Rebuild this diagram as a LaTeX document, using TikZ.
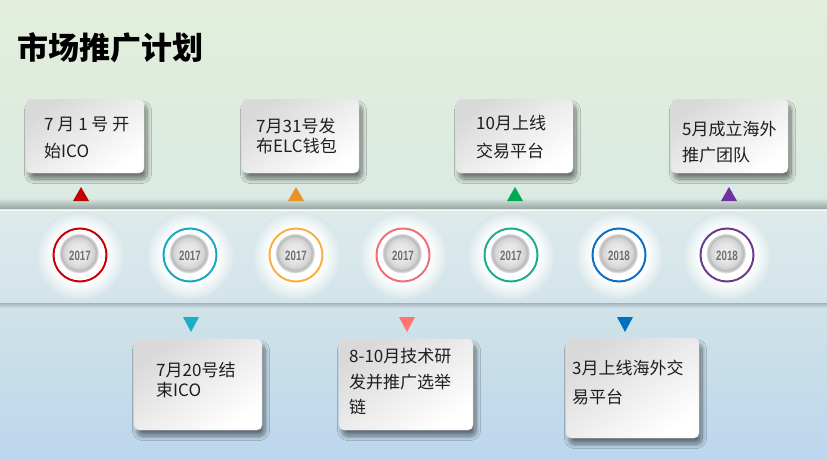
\documentclass[tikz,border=0pt]{standalone}
\usepackage{fontspec}
\usetikzlibrary{shadows.blur,fadings}
\newfontfamily\cjk{Noto Sans CJK SC}
\newfontfamily\yearfont[FakeStretch=0.72]{Liberation Sans}
\definecolor{bgtop}{HTML}{E3EFDB}
\definecolor{bgmid}{HTML}{D9E9E4}
\definecolor{bgbot}{HTML}{BCD6EE}
\definecolor{bandtop}{HTML}{DEEAEA}
\definecolor{bandbot}{HTML}{D3E4EB}
\definecolor{bandmid}{HTML}{D9E7EA}
\definecolor{txt}{HTML}{1E1E1E}
\definecolor{cRed}{HTML}{C8000A}
\definecolor{cCyan}{HTML}{1AA8BE}
\definecolor{cOrange}{HTML}{F9B040}
\definecolor{cPink}{HTML}{EE7075}
\definecolor{cGreen}{HTML}{1BAE8C}
\definecolor{cBlue}{HTML}{0B6FC4}
\definecolor{cPurple}{HTML}{6A3A8D}
\definecolor{tRed}{HTML}{C00000}
\definecolor{tOrange}{HTML}{EA9126}
\definecolor{tGreen}{HTML}{00AA55}
\definecolor{tPurple}{HTML}{7030A0}
\definecolor{tCyan}{HTML}{1AAFC4}
\definecolor{tPink}{HTML}{FF7373}
\definecolor{tBlue}{HTML}{0070C0}
\definecolor{yeargray}{HTML}{6E6E6E}
\pgfdeclareradialshading{glow}{\pgfpoint{0bp}{0bp}}{color(0bp)=(white); color(15bp)=(white); color(18bp)=(white!75!bandmid); color(25bp)=(bandmid); color(50bp)=(bandmid)}
\pgfdeclareradialshading{disc}{\pgfpoint{-2bp}{3bp}}{color(0bp)=(white!94!black); color(10bp)=(white!89!black); color(15bp)=(white!83!black); color(17.5bp)=(white!72!black); color(19bp)=(white!84!black); color(20bp)=(white); color(25bp)=(white); color(50bp)=(white)}
\tikzset{
  boxcard/.style={rectangle, rounded corners=5pt, draw=black!10, line width=0.4pt,
    top color=black!15, bottom color=white, shading angle=35,
    blur shadow={shadow xshift=3pt, shadow yshift=-6pt, shadow blur radius=4.5pt, shadow blur steps=12, shadow opacity=50},
    inner sep=0pt},
  boxtxt/.style={font=\cjk\fontsize{17}{#1}\selectfont, align=left, anchor=north west, inner sep=0pt, text=txt},
  year/.style={font=\yearfont\bfseries\fontsize{13.5}{14}\selectfont, text=yeargray, inner sep=0pt},
  ring/.style={draw=#1, line width=2pt, fill=white}
}
\begin{document}
\begin{tikzpicture}[x=1pt,y=-1pt]
\useasboundingbox (0,0) rectangle (827,460);
% background
\shade[top color=bgtop, bottom color=bgbot, middle color=bgmid] (0,0) rectangle (827,460);
% band shadows
\shade[top color=bgmid, bottom color=black!30!bgmid] (0,198) rectangle (827,209);
\shade[top color=black!26!bandbot, bottom color=bandbot!80!bgbot] (0,302) rectangle (827,308);
% band
\shade[top color=bandtop, bottom color=bandbot] (0,209.5) rectangle (827,302);
\draw[white!70!bandtop, line width=0.8pt] (0,210) -- (827,210);
% title
\node[font=\cjk\bfseries\fontsize{31}{33}\selectfont, anchor=west, inner sep=0pt, text=black] (title) at (17,48) {市场推广计划};
% circles
\foreach \x/\c/\y [count=\i] in {80/cRed/2017, 190/cCyan/2017, 296/cOrange/2017, 403/cPink/2017, 511/cGreen/2017, 619/cBlue/2018, 727/cPurple/2018}{
  \shade[shading=glow] (\x,255) circle (44);
  \draw[ring=\c] (\x,255) circle (26.5);
  \shade[shading=disc] (\x,255) circle (25);
  \node[year] (yr\i) at (\x,255.5) {\y};
}
% up triangles
\foreach \x/\c in {81/tRed, 296/tOrange, 515/tGreen, 729/tPurple}{
  \fill[\c] (\x-8,201) -- (\x+8,201) -- (\x,187) -- cycle;
}
% down triangles
\foreach \x/\c in {191/tCyan, 407/tPink, 625/tBlue}{
  \fill[\c] (\x-8,317) -- (\x+8,317) -- (\x,332) -- cycle;
}
% top boxes
\node[boxcard, minimum width=118pt, minimum height=74pt] (b1) at (85,136) {};
\node[boxcard, minimum width=117pt, minimum height=74pt] (b2) at (300.5,136) {};
\node[boxcard, minimum width=117pt, minimum height=74pt] (b3) at (514.5,136) {};
\node[boxcard, minimum width=117pt, minimum height=74pt] (b4) at (729.5,136) {};
% bottom boxes
\node[boxcard, minimum width=128pt, minimum height=91pt] (b5) at (198,384.5) {};
\node[boxcard, minimum width=134pt, minimum height=91pt] (b6) at (406,384.5) {};
\node[boxcard, minimum width=133pt, minimum height=100pt] (b7) at (632.5,388) {};
% texts
\node[boxtxt=27] (t1) at (44,116.5) {7 月 1 号 开\\始ICO};
\node[boxtxt=20] (t2) at (256,118) {7月31号发\\布ELC钱包};
\node[boxtxt=28] (t3) at (476,115) {10月上线\\交易平台};
\node[boxtxt=26.5] (t4) at (682,120.5) {5月成立海外\\推广团队};
\node[boxtxt=20] (t5) at (156,361.5) {7月20号结\\束ICO};
\node[boxtxt=25.5] (t6) at (349,348.5) {8-10月技术研\\发并推广选举\\链};
\node[boxtxt=29] (t7) at (572,359.5) {3月上线海外交\\易平台};
\end{tikzpicture}
\end{document}
